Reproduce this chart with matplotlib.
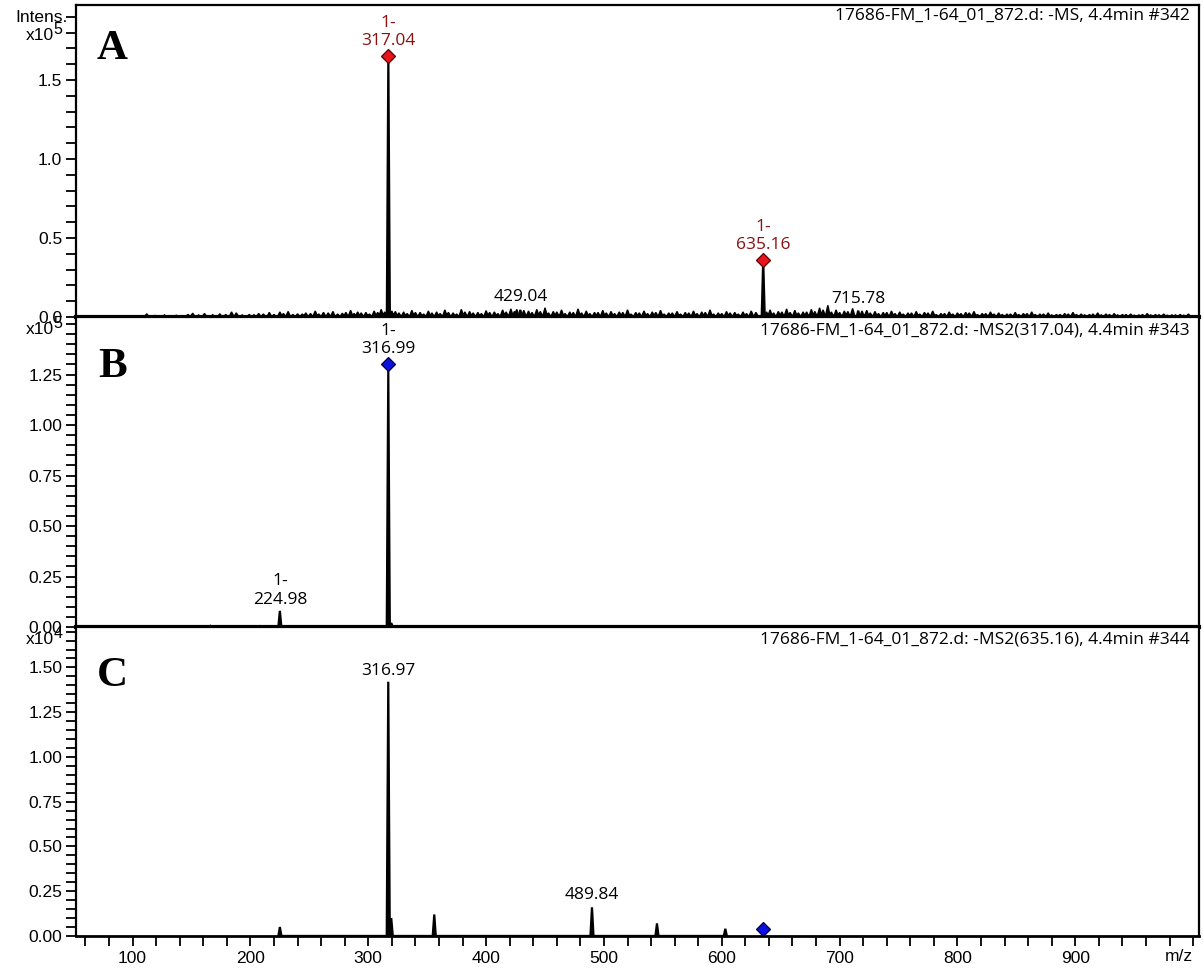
import numpy as np
import matplotlib
matplotlib.use('Agg')
import matplotlib.pyplot as plt
from matplotlib.ticker import MultipleLocator, FormatStrFormatter

TICKFONT = 'Liberation Sans'
LABFONT = 'Open Sans'

# ---- data ----
# panel A: full MS, intensities x10^5
a_peaks_mz = [317.04, 635.16, 429.04, 715.78]
a_peaks_int = [1.65, 0.36, 0.045, 0.040]
# baseline noise of panel A, intensities in x10^3 counts
noise_mz = [112, 127, 147, 151, 161, 174, 184, 188, 199, 207, 216, 225, 232, 240, 247,
            255, 262, 270, 278, 285, 291, 298, 305, 311, 323, 330, 337, 344, 351, 358,
            365, 372, 379, 386, 393, 400, 407, 414, 421, 426, 436, 443, 450, 457, 464,
            471, 478, 485, 492, 499, 506, 513, 520, 527, 534, 541, 548, 555, 562, 569,
            576, 583, 590, 597, 604, 611, 618, 625, 641, 648, 655, 662, 669, 676, 683,
            690, 697, 704, 711, 723, 730, 737, 744, 751, 758, 765, 772, 779, 786, 793,
            800, 807, 814, 821, 828, 835, 842, 849, 856, 863, 870, 877, 884, 891, 898,
            905, 912, 919, 926, 933, 940, 947, 954, 961, 968, 975, 982, 989, 996]
noise_int = [2.0, 1.3, 1.6, 2.4, 2.2, 2.0, 3.2, 2.6, 1.6, 2.2, 2.9, 3.2, 3.5, 2.0, 2.6,
             3.8, 2.9, 3.5, 2.4, 4.2, 3.2, 2.9, 3.8, 4.8, 3.5, 3.2, 4.2, 2.9, 3.8, 3.2,
             4.5, 2.6, 4.8, 3.5, 2.9, 4.0, 3.2, 4.5, 5.1, 4.8, 3.8, 4.8, 5.8, 3.5, 4.5,
             3.2, 5.1, 3.8, 2.9, 4.2, 3.5, 3.2, 4.5, 2.9, 3.8, 3.2, 4.2, 2.6, 3.5, 2.9,
             3.8, 3.2, 4.5, 2.6, 3.5, 2.9, 3.2, 3.8, 4.5, 3.5, 5.1, 4.2, 3.2, 4.8, 5.8,
             7.4, 4.5, 3.8, 5.4, 4.2, 3.5, 2.9, 3.8, 3.2, 2.6, 3.5, 2.9, 3.8, 2.2, 3.2,
             2.6, 2.9, 3.5, 2.2, 3.2, 2.6, 1.9, 2.9, 2.2, 3.2, 1.9, 2.6, 1.6, 2.2, 2.9,
             1.9, 1.6, 2.6, 1.9, 2.2, 1.6, 1.9, 1.3, 2.2, 1.6, 1.9, 1.3, 1.6, 1.9]
noise2_mz = [119, 137, 156, 168, 179, 193, 203, 211, 220, 228, 236, 244, 251, 258, 266,
             274, 281, 288, 294, 301, 308, 314, 320, 326, 333, 340, 347, 354, 361, 368,
             375, 382, 389, 396, 403, 410, 417, 424, 432, 439, 446, 453, 460, 467, 474,
             481, 488, 495, 502, 509, 516, 523, 530, 537, 544, 551, 558, 565, 572, 579,
             586, 593, 600, 607, 614, 621, 629, 638, 644, 651, 658, 665, 672, 679, 686,
             693, 700, 707, 719, 726, 733, 740, 747, 754, 761, 768, 775, 782, 789, 796,
             803, 810, 817, 824, 831, 838, 845, 852, 859, 866, 873, 880, 887, 894, 901,
             908, 915, 922, 929, 936, 943, 950, 957, 964, 971, 978, 985, 992]
noise2_int = [1.0, 1.1, 1.3, 1.4, 1.6, 1.3, 1.4, 1.9, 1.6, 2.2, 1.6, 1.9, 2.2, 1.9, 2.6,
              1.9, 2.9, 2.2, 2.6, 1.9, 2.9, 3.2, 3.8, 2.6, 2.2, 2.9, 1.9, 2.6, 2.2, 2.9,
              1.9, 3.2, 2.6, 2.2, 2.9, 2.2, 3.2, 3.5, 4.2, 2.9, 3.5, 2.6, 3.2, 2.2, 2.9,
              2.6, 2.2, 2.9, 2.6, 2.2, 2.9, 1.9, 2.6, 2.2, 2.9, 1.9, 2.6, 1.9, 2.6, 2.2,
              2.9, 1.9, 2.2, 2.6, 1.9, 2.2, 2.9, 3.2, 2.6, 3.2, 2.9, 2.6, 3.2, 3.5, 4.5,
              3.2, 2.9, 3.5, 3.8, 2.6, 2.2, 2.9, 2.2, 1.9, 2.6, 1.9, 2.6, 1.6, 2.2, 1.9,
              2.2, 2.6, 1.6, 2.2, 1.9, 1.6, 1.9, 1.6, 2.2, 1.6, 1.9, 1.3, 1.6, 1.9, 1.6,
              1.3, 1.9, 1.3, 1.6, 1.3, 1.6, 1.1, 1.6, 1.3, 1.4, 1.1, 1.3, 1.1]

# panel B: MS2 of 317.04, x10^5
b_mz = [128, 166, 208, 224.98, 316.99, 319.5]
b_int = [0.004, 0.006, 0.005, 0.08, 1.27, 0.02]

# panel C: MS2 of 635.16, x10^4
c_mz = [225.0, 316.97, 319.5, 356.0, 489.84, 545.0, 603.0]
c_int = [0.05, 1.42, 0.10, 0.12, 0.16, 0.07, 0.04]
c_precursor = 635.16

a_yticks = [0.0, 0.5, 1.0, 1.5]
bc_yticks = [0.0, 0.25, 0.5, 0.75, 1.0, 1.25]
c_yticks = [0.0, 0.25, 0.5, 0.75, 1.0, 1.25, 1.5]
x_ticks = [100, 200, 300, 400, 500, 600, 700, 800, 900]

headers = ["17686-FM_1-64_01_872.d: -MS, 4.4min #342",
           "17686-FM_1-64_01_872.d: -MS2(317.04), 4.4min #343",
           "17686-FM_1-64_01_872.d: -MS2(635.16), 4.4min #344"]

PX = 72 / 100.0  # points per pixel at dpi 100
H = 969.0


def profile(mz, inten, hw):
    order = np.argsort(mz)
    xs, ys = [], []
    for i in order:
        xs += [mz[i] - hw, mz[i], mz[i] + hw]
        ys += [0, inten[i], 0]
    return np.array(xs), np.array(ys)


def draw_peaks(ax, mz, inten, hw=1.3, lw=1.4):
    x, y = profile(mz, inten, hw)
    ax.fill(x, y, color='black', lw=0)
    ax.plot(x, y, color='black', lw=lw, solid_joinstyle='miter')


def label(ax, x, y, txt, dy_px, color='black'):
    ax.annotate(txt, (x, y), xytext=(0, dy_px * PX), textcoords='offset points',
                ha='center', va='bottom', fontsize=12.5, family=LABFONT, color=color,
                linespacing=1.2)


def setup_axis(ax, ymax, ticks, minor, fmt):
    ax.set_xlim(52, 1005)
    ax.set_ylim(0, ymax)
    ax.set_yticks(ticks)
    ax.yaxis.set_minor_locator(MultipleLocator(minor))
    ax.yaxis.set_major_formatter(FormatStrFormatter(fmt))
    ax.tick_params(axis='y', which='both', direction='out', length=7, width=1.3,
                   labelsize=12.5, pad=3)
    for lab in ax.get_yticklabels():
        lab.set_family(TICKFONT)
    for s in ax.spines.values():
        s.set_linewidth(1.6)


def multiplier(y_px, exp):
    fig.text(0.0445, 1 - y_px / H, 'x10', ha='right', va='center', fontsize=12.5,
             family=TICKFONT)
    fig.text(0.0447, 1 - (y_px - 5) / H, exp, ha='left', va='center', fontsize=11.5,
             family=TICKFONT)


fig = plt.figure(figsize=(12.03, 9.69), dpi=100)
axA = fig.add_axes([0.0632, 0.6729, 0.9335, 0.3219])
axB = fig.add_axes([0.0632, 0.3529, 0.9335, 0.3200])
axC = fig.add_axes([0.0632, 0.0341, 0.9335, 0.3189])

setup_axis(axA, 1.975, a_yticks, 0.1, '%.1f')
setup_axis(axB, 1.535, bc_yticks, 0.05, '%.2f')
setup_axis(axC, 1.726, c_yticks, 0.05, '%.2f')

for ax in (axA, axB):
    ax.set_xticks([])
    ax.spines['bottom'].set_linewidth(3)

axC.xaxis.set_minor_locator(MultipleLocator(20))
axC.set_xticks(x_ticks)
axC.tick_params(axis='x', which='both', direction='out', length=7, width=1.3,
                labelsize=12.5, pad=4)
for lab in axC.get_xticklabels():
    lab.set_family(TICKFONT)
axC.spines['bottom'].set_linewidth(2)
axC.annotate('m/z', (988, 0), xycoords=('data', 'axes fraction'), xytext=(0, -15),
             textcoords='offset points', ha='center', va='center', fontsize=12.5,
             family=TICKFONT)

# ---- panel A ----
draw_peaks(axA, noise_mz + noise2_mz,
           [v / 100 for v in noise_int + noise2_int], hw=2.2, lw=1.0)
draw_peaks(axA, a_peaks_mz, a_peaks_int, hw=1.3, lw=1.6)
red_face, red_edge = '#e8141c', '#5a0000'
axA.plot(a_peaks_mz[:2], a_peaks_int[:2], 'D', ms=7, mfc=red_face, mec=red_edge, mew=0.9)
label(axA, a_peaks_mz[0], a_peaks_int[0], '1-\n317.04', 7, '#8b1010')
label(axA, a_peaks_mz[1], a_peaks_int[1], '1-\n635.16', 7, '#8b1010')
label(axA, a_peaks_mz[2], a_peaks_int[2], '429.04', 5)
label(axA, a_peaks_mz[3], a_peaks_int[3], '715.78', 4)

# ---- panel B ----
draw_peaks(axB, b_mz, b_int, hw=1.3, lw=1.6)
blue_face, blue_edge = '#0a10e0', '#000040'
axB.plot([b_mz[4]], [b_int[4] + 0.03], 'D', ms=7, mfc=blue_face, mec=blue_edge, mew=0.9)
label(axB, b_mz[4], b_int[4] + 0.03, '1-\n316.99', 7)
label(axB, b_mz[3], b_int[3], '1-\n224.98', 3)

# ---- panel C ----
draw_peaks(axC, c_mz, c_int, hw=1.3, lw=1.6)
axC.plot([c_precursor], [0.04], 'D', ms=7, mfc=blue_face, mec=blue_edge, mew=0.9)
label(axC, c_mz[1], c_int[1], '316.97', 3)
label(axC, c_mz[4], c_int[4], '489.84', 4)

# ---- headers, letters, multipliers ----
for ax, h, yy in zip((axA, axB, axC), headers, (0.965, 0.955, 0.958)):
    ax.text(0.992, yy, h, transform=ax.transAxes, ha='right', va='center',
            fontsize=12.5, family=LABFONT)

for ax, letter, yy in zip((axA, axB, axC), 'ABC', (0.86, 0.84, 0.84)):
    ax.text(0.0325, yy, letter, transform=ax.transAxes, ha='center', va='center',
            fontsize=31, fontweight='bold', family='Liberation Serif')

fig.text(0.056, 1 - 18 / H, 'Intens.', ha='right', va='center', fontsize=12.5, family=TICKFONT)
multiplier(35, '5')
multiplier(329, '5')
multiplier(639, '4')

fig.savefig('out.png', dpi=100)
